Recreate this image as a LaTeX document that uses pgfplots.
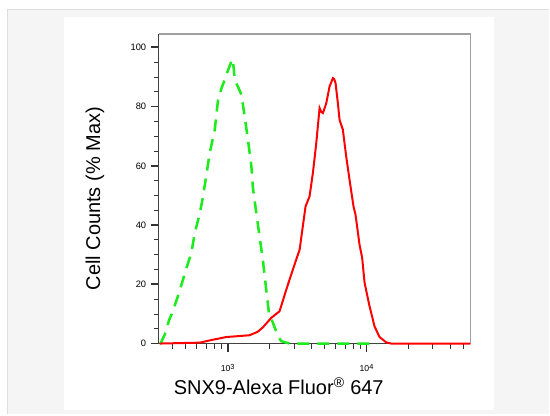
\documentclass[border=0pt]{standalone}
\usepackage{fontspec}
\setmainfont{Liberation Sans}
\usepackage{pgfplots}
\pgfplotsset{compat=1.18}
\definecolor{isogreen}{RGB}{30,235,30}
\definecolor{sigred}{RGB}{255,0,0}
\definecolor{panelgray}{RGB}{245,245,245}
\definecolor{bordergray}{RGB}{222,222,222}
\definecolor{framegray}{RGB}{160,160,160}
\newcommand\decade[1]{10\raisebox{0.55ex}{\fontsize{5.5}{6}\selectfont #1}}

\begin{document}
\begin{tikzpicture}
% page background: 1px = 0.75pt, axis box lower left at px (159,344)
\fill[white] (-119.25pt,-53.25pt) rectangle (293.25pt,258pt);
\fill[panelgray] (-113.6pt,-53.25pt) rectangle (293.25pt,250.9pt);
\draw[bordergray, line width=1.1pt] (-113.6pt,-53.25pt) -- (-113.6pt,250.9pt) -- (293.25pt,250.9pt);
\fill[white] (-71.25pt,-49.9pt) rectangle (252pt,244.9pt);
\path[use as bounding box] (-119.25pt,-53.25pt) rectangle (293.25pt,258pt);

\begin{axis}[
  at={(0,0)}, anchor=south west,
  scale only axis, width=234pt, height=232.5pt,
  xmode=log, xmin=319, xmax=56000,
  ymin=0, ymax=104.5,
  clip=false,
  axis x line*=bottom, axis y line*=left,
  axis line style={black!75, line width=0.8pt},
  tick align=outside,
  major tick length=6pt, minor tick length=3.75pt,
  every major tick/.append style={line width=1.3pt, black!80},
  every minor tick/.append style={line width=0.6pt, black!80},
  xtick={1000,10000},
  xticklabels={\decade{3},\decade{4}},
  minor xtick={400,500,600,700,800,900,2000,3000,4000,5000,6000,7000,8000,9000,20000,30000,40000,50000},
  ytick={0,20,40,60,80,100},
  minor y tick num=3,
  yticklabel style={font=\fontsize{7}{8}\selectfont, /pgf/number format/assume math mode=true},
  xticklabel style={font=\fontsize{6.5}{7}\selectfont, yshift=-6pt},
  xlabel={SNX9-Alexa Fluor\textsuperscript{®} 647},
  ylabel={Cell Counts (\% Max)},
  xlabel style={font=\fontsize{15}{18}\selectfont, at={(rel axis cs:0.385,-0.1645)}, anchor=base},
  ylabel style={font=\fontsize{15}{18}\selectfont, at={(rel axis cs:-0.205,0.468)}, anchor=center, rotate=0},
]
\draw[framegray, line width=1.1pt] (rel axis cs:0,1) -- (rel axis cs:1,1) -- (rel axis cs:1,0);

% isotype control
\addplot[isogreen, line width=1.9pt, dash pattern=on 9pt off 6pt] coordinates {
(328,0)(352,3)(379,8)(404,11)(452,18)(505,25.5)(548,30.7)(580,37.4)(630,44)
(661,49)(692,55)(743,64.4)(806,72)(851,82)(900,86)(951,89)(1010,92.5)(1064,95.2)(1086,96)
(1105,93)(1123,89)(1190,86.5)(1256,84)(1325,76.7)(1400,68.8)(1482,59.8)(1521,52.4)(1608,44)
(1698,36)(1795,28)(1898,18)(1982,10.3)(2118,7)(2301,2.5)(2434,0.8)(2792,0)(12000,0)
};

% SNX9 stained
\addplot[sigred, line width=1.5pt] coordinates {
(324,0)(630,0.3)(783,1.3)(979,2.2)(1439,2.8)(1650,4)(1795,5.5)(2062,8.7)(2365,10.9)
(2643,18.2)(2792,21.6)(3083,27.7)(3298,31.7)(3406,36.5)(3640,46.3)(3890,49.7)
(4111,57.6)(4347,67.7)(4592,79.5)(4720,78.2)(4853,77.8)(5129,81.1)(5420,86.8)(5728,89.6)
(5850,89.3)(5987,87.9)(6220,81.1)(6397,75.5)(6754,72.2)(7139,63.2)(7546,55.3)(8060,46.3)
(8333,43.5)(8906,33.4)(9300,29)(9686,20.5)(10514,12.6)(11427,5.8)(12410,2.2)
(13860,0.4)(15060,0)(56000,0)
};
\end{axis}
\end{tikzpicture}
\end{document}
